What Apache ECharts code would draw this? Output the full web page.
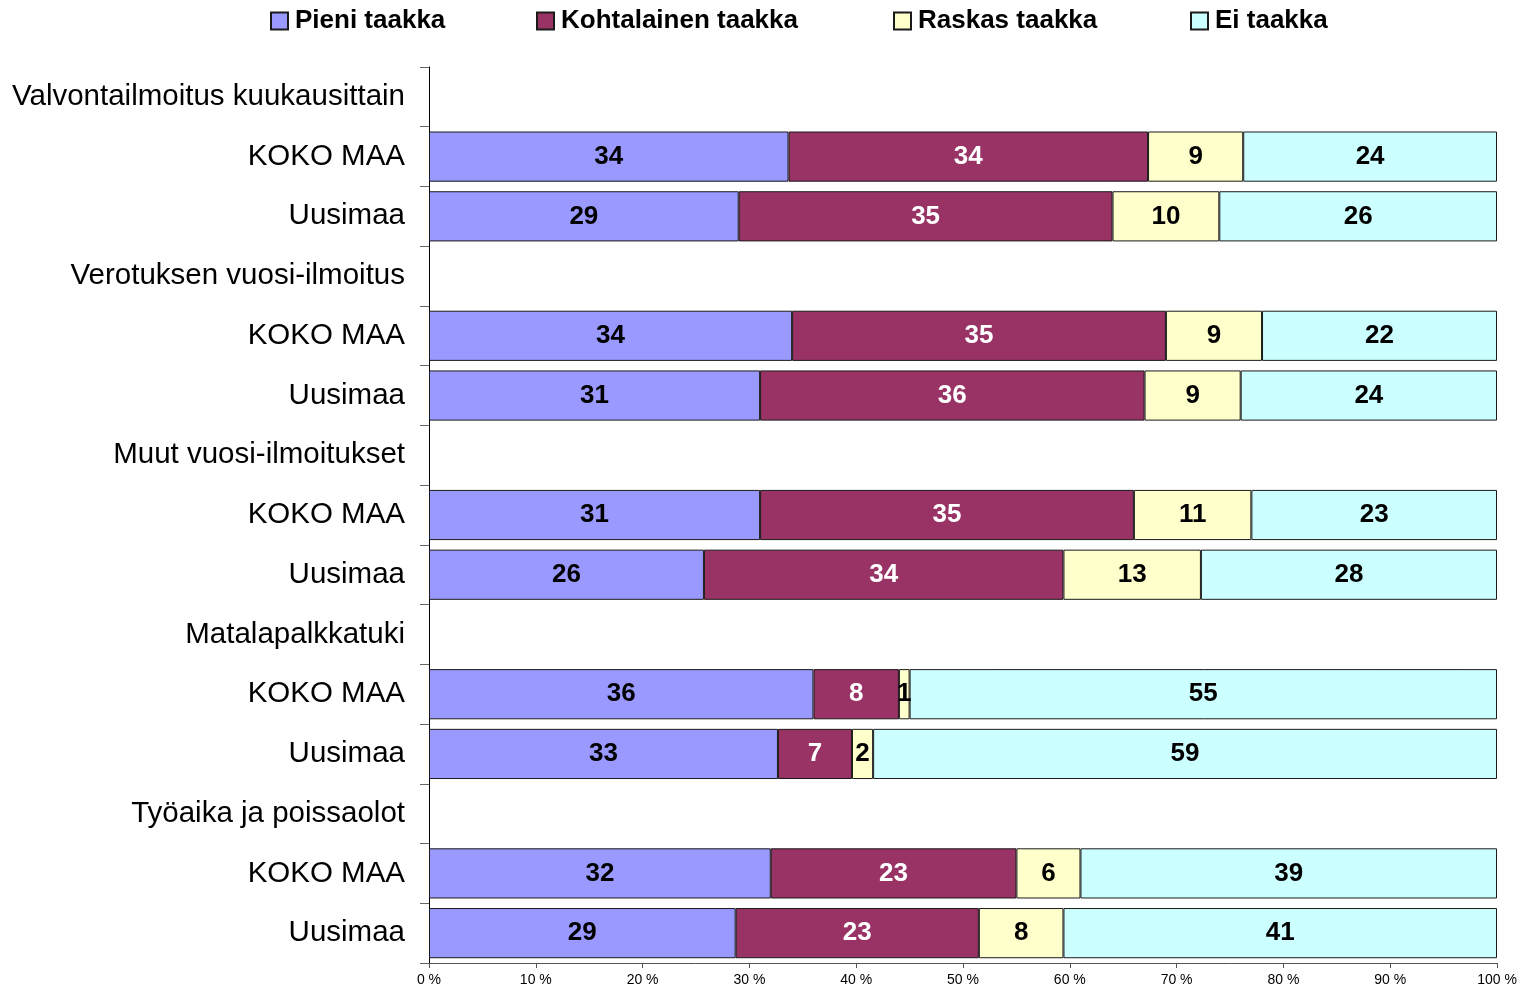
<!DOCTYPE html>
<html>
<head>
<meta charset="utf-8">
<script src="https://cdn.jsdelivr.net/npm/echarts@6/dist/echarts.min.js"></script>
<style>
  html, body { margin: 0; padding: 0; background: #fff; }
  #chart { width: 1522px; height: 995px; }
</style>
</head>
<body>
<div id="chart"></div>
<script>
// rows from top to bottom; group header rows have no bar
var categories = [
  'Valvontailmoitus kuukausittain', 'KOKO MAA', 'Uusimaa',
  'Verotuksen vuosi-ilmoitus', 'KOKO MAA', 'Uusimaa',
  'Muut vuosi-ilmoitukset', 'KOKO MAA', 'Uusimaa',
  'Matalapalkkatuki', 'KOKO MAA', 'Uusimaa',
  'Työaika ja poissaolot', 'KOKO MAA', 'Uusimaa'
];
var seriesNames = ['Pieni taakka', 'Kohtalainen taakka', 'Raskas taakka', 'Ei taakka'];
var pieni       = [null, 34, 29, null, 34, 31, null, 31, 26, null, 36, 33, null, 32, 29];
var kohtalainen = [null, 34, 35, null, 35, 36, null, 35, 34, null,  8,  7, null, 23, 23];
var raskas      = [null,  9, 10, null,  9,  9, null, 11, 13, null,  1,  2, null,  6,  8];
var eiTaakka    = [null, 24, 26, null, 22, 24, null, 23, 28, null, 55, 59, null, 39, 41];
var xTicks = [0, 10, 20, 30, 40, 50, 60, 70, 80, 90, 100];

var raw = [pieni, kohtalainen, raskas, eiTaakka];
var colors = ['#9999FF', '#993366', '#FFFFCC', '#CCFFFF'];
var labelColors = ['#000', '#fff', '#000', '#000'];
var legendLeft = [265, 531, 888, 1185];

// bars are drawn as share of the row total (100 % stacked)
var totals = categories.map(function (c, i) {
  var s = 0;
  raw.forEach(function (arr) { if (arr[i] != null) s += arr[i]; });
  return s;
});

var series = raw.map(function (arr, k) {
  return {
    name: seriesNames[k],
    type: 'bar',
    stack: 'all',
    barWidth: '84%',
    data: arr.map(function (v, i) { return v == null ? '-' : v / totals[i] * 100; }),
    itemStyle: { color: colors[k], borderColor: '#1a1a1a', borderWidth: 1 },
    label: {
      show: true,
      position: 'inside',
      color: labelColors[k],
      fontFamily: 'Liberation Sans',
      fontWeight: 'bold',
      fontSize: 26,
      formatter: function (p) { return raw[k][p.dataIndex]; }
    }
  };
});

// one legend per item so each sits where the reference puts it
var legends = seriesNames.map(function (name, k) {
  return {
    data: [name],
    top: 3,
    left: legendLeft[k],
    itemWidth: 17,
    itemHeight: 17,
    icon: 'rect',
    selectedMode: false,
    textStyle: { fontFamily: 'Liberation Sans', fontWeight: 'bold', fontSize: 26, color: '#000', padding: [0, 0, 0, 2] }
  };
});

var myChart = echarts.init(document.getElementById('chart'));
var option = {
  animation: false,
  legend: legends,
  grid: { left: 429, right: 25, top: 67, bottom: 32 },
  xAxis: {
    type: 'value',
    min: 0,
    max: 100,
    interval: 10,
    splitLine: { show: false },
    axisLine: { show: true, lineStyle: { color: '#555' } },
    axisTick: { show: true, length: 5, lineStyle: { color: '#555' } },
    axisLabel: {
      color: '#000',
      fontFamily: 'Liberation Sans',
      fontSize: 14,
      margin: 10,
      formatter: function (v) { return xTicks.indexOf(v) >= 0 ? v + ' %' : ''; }
    }
  },
  yAxis: {
    type: 'category',
    inverse: true,
    data: categories,
    axisLine: { show: true, lineStyle: { color: '#000' } },
    axisTick: { show: true, length: 9, lineStyle: { color: '#666' } },
    axisLabel: {
      color: '#000',
      fontFamily: 'Liberation Sans',
      fontSize: 29.5,
      margin: 24,
      interval: 0
    }
  },
  series: series
};
myChart.setOption(option);
</script>
</body>
</html>
